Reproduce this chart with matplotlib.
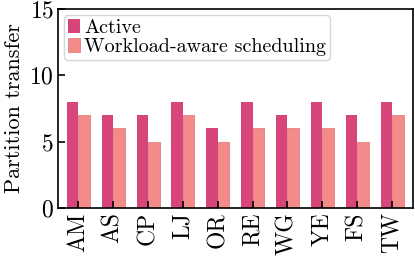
import matplotlib
matplotlib.use('Agg')
import matplotlib.pyplot as plt
import numpy as np

# data
datasets = ['AM', 'AS', 'CP', 'LJ', 'OR', 'RE', 'WG', 'YE', 'FS', 'TW']
active = [8, 7, 7, 8, 6, 8, 7, 8, 7, 8]
workload_aware = [7, 6, 5, 7, 5, 6, 6, 6, 5, 7]

plt.rcParams['font.family'] = 'serif'
plt.rcParams['font.serif'] = ['cmr10', 'DejaVu Serif']
plt.rcParams['mathtext.fontset'] = 'cm'
plt.rcParams['axes.formatter.use_mathtext'] = True

fig, ax = plt.subplots(figsize=(4.15, 2.59), dpi=100)
x = np.arange(len(datasets))
w = 0.33
ax.bar(x - w / 2, active, w, color='#d8457b', label='Active')
ax.bar(x + w / 2, workload_aware, w, color='#f48b8b', edgecolor='#e07070',
       linewidth=0.5, label='Workload-aware scheduling')

ax.set_xlim(-0.58, 9.6)
ax.set_ylim(0, 15)
ax.set_yticks([0, 5, 10, 15])
ax.set_xticks(x)
ax.set_xticklabels(datasets, rotation=90)
ax.tick_params(direction='in', labelsize=17, length=5, width=1.2, pad=3)
ax.set_ylabel('Partition transfer', fontsize=16, labelpad=4)
for s in ax.spines.values():
    s.set_linewidth(1.2)

ax.legend(loc='upper left', fontsize=14.5, handlelength=0.6, handletextpad=0.2,
          borderpad=0.2, labelspacing=0.05, borderaxespad=0.3, fancybox=True)

plt.subplots_adjust(left=0.14, right=0.995, top=0.965, bottom=0.197)
plt.savefig('out.png', dpi=100)
